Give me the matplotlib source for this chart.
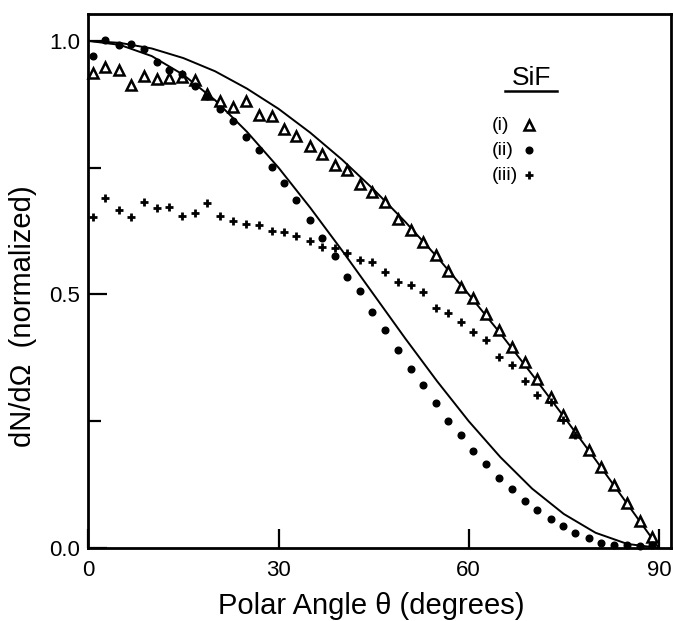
import numpy as np
import matplotlib
matplotlib.use('Agg')
import matplotlib.pyplot as plt

plt.rcParams['font.family'] = ['Liberation Sans', 'DejaVu Sans']

# polar angles of the measured points (degrees)
theta = [0.7, 2.7, 4.8, 6.8, 8.8, 10.8, 12.8, 14.8, 16.8, 18.7,
         20.8, 22.8, 24.8, 26.9, 28.9, 30.9, 32.8, 34.9, 36.8, 38.9,
         40.8, 42.9, 44.8, 46.8, 48.8, 50.9, 52.8, 54.8, 56.8, 58.8,
         60.7, 62.8, 64.8, 66.8, 68.8, 70.8, 72.9, 74.8, 76.8, 78.9,
         80.9, 82.9, 85.0, 87.0, 88.9]

# (i) triangles
sif_i = [0.936, 0.949, 0.943, 0.913, 0.930, 0.925, 0.926, 0.928, 0.923, 0.895,
         0.882, 0.870, 0.882, 0.854, 0.852, 0.826, 0.813, 0.793, 0.777, 0.755,
         0.746, 0.717, 0.701, 0.682, 0.648, 0.627, 0.604, 0.578, 0.547, 0.514,
         0.492, 0.461, 0.430, 0.396, 0.366, 0.333, 0.298, 0.262, 0.229, 0.193,
         0.160, 0.124, 0.088, 0.054, 0.022]

# (ii) dots
sif_ii = [0.971, 1.002, 0.992, 0.994, 0.984, 0.959, 0.942, 0.934, 0.911, 0.892,
          0.865, 0.841, 0.810, 0.785, 0.752, 0.719, 0.686, 0.647, 0.611, 0.576,
          0.534, 0.506, 0.466, 0.429, 0.391, 0.352, 0.321, 0.285, 0.250, 0.223,
          0.192, 0.166, 0.137, 0.116, 0.093, 0.074, 0.057, 0.043, 0.029, 0.020,
          0.010, 0.006, 0.006, 0.004, 0.005]

# (iii) crosses (stop at ~77 deg)
sif_iii = [0.653, 0.690, 0.667, 0.653, 0.682, 0.670, 0.673, 0.655, 0.661, 0.680,
           0.655, 0.644, 0.639, 0.637, 0.626, 0.623, 0.616, 0.606, 0.593, 0.592,
           0.581, 0.567, 0.563, 0.544, 0.524, 0.519, 0.504, 0.473, 0.463, 0.445,
           0.425, 0.410, 0.377, 0.360, 0.330, 0.302, 0.287, 0.252, 0.223]

# solid reference curves, read every 5 degrees
curve_theta = [0, 5, 10, 15, 20, 25, 30, 35, 40, 45, 50, 55, 60, 65, 70, 75, 80, 85, 90]
curve_outer = [1.000, 0.996, 0.985, 0.966, 0.940, 0.906, 0.866, 0.819, 0.766, 0.707,
               0.643, 0.574, 0.500, 0.423, 0.342, 0.259, 0.174, 0.087, 0.000]
curve_inner = [1.000, 0.992, 0.970, 0.933, 0.883, 0.821, 0.750, 0.671, 0.587, 0.500,
               0.413, 0.329, 0.250, 0.179, 0.117, 0.067, 0.030, 0.008, 0.000]

fig = plt.figure(figsize=(6.73, 6.21), dpi=100)
ax = fig.add_axes([0.1312, 0.1176, 0.8658, 0.8599])

ax.plot(curve_theta, curve_outer, color='black', lw=1.4, zorder=2)
ax.plot(curve_theta, curve_inner, color='black', lw=1.4, zorder=2)

ax.plot(theta, sif_i, linestyle='none', marker='^', ms=6.8, mfc='white',
        mec='black', mew=1.8, clip_on=False, zorder=3)
ax.plot(theta, sif_ii, linestyle='none', marker='o', ms=4.8, color='black',
        clip_on=False, zorder=4)
ax.plot(theta[:len(sif_iii)], sif_iii, linestyle='none', marker='+', ms=6,
        mew=2.0, color='black', clip_on=False, zorder=4)

ax.set_xlim(0, 91.9)
ax.set_ylim(0, 1.053)

ax.set_xticks([0, 30, 60, 90])
ax.set_yticks([0.0, 0.5, 1.0])
ax.set_yticks([0.25, 0.75], minor=True)
ax.set_yticklabels(['0.0', '0.5', '1.0'])

ax.tick_params(axis='both', which='major', direction='in', length=13.5,
               width=1.6, labelsize=16)
ax.tick_params(axis='y', which='minor', direction='in', length=9, width=1.6)
ax.tick_params(axis='x', which='major', pad=9)
ax.tick_params(axis='y', which='major', pad=6)

for s in ax.spines.values():
    s.set_linewidth(2)

ax.set_xlabel('Polar Angle \u03b8 (degrees)', fontsize=21)
ax.xaxis.set_label_coords(0.486, -0.082)
ax.set_ylabel('dN/d\u03a9  (normalized)', fontsize=21)
ax.yaxis.set_label_coords(-0.088, 0.434)

# legend block
ax.text(0.760, 0.880, 'SiF', transform=ax.transAxes, fontsize=19,
        ha='center', va='center')
ax.plot([0.715, 0.804], [0.856, 0.856], transform=ax.transAxes,
        color='black', lw=1.8, clip_on=False)
labels = ['(i)', '(ii)', '(iii)']
markers = [dict(marker='^', ms=6.8, mfc='white', mec='black', mew=1.8),
           dict(marker='o', ms=4.8, color='black'),
           dict(marker='+', ms=6, mew=2.0, color='black')]
rows_y = [0.792, 0.745, 0.698]
for lab, mk, ry in zip(labels, markers, rows_y):
    ax.text(0.693, ry, lab, transform=ax.transAxes, fontsize=14,
            ha='left', va='center')
    ax.plot([0.757], [ry], transform=ax.transAxes, linestyle='none', **mk)

fig.savefig('out.png', dpi=100)
